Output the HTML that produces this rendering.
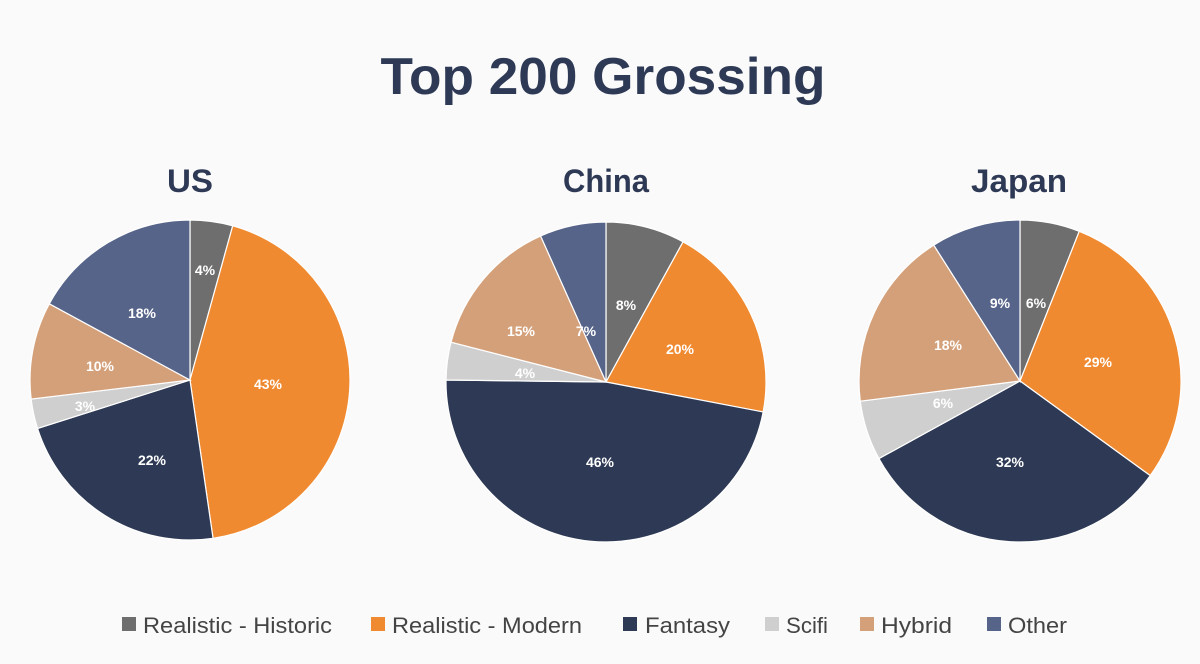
<!DOCTYPE html>
<html><head><meta charset="utf-8"><style>
html,body{margin:0;padding:0;background:#fafafa;}
svg{display:block}
</style></head><body>
<svg id="s" width="1200" height="664" viewBox="0 0 1200 664" xmlns="http://www.w3.org/2000/svg" font-family="Liberation Sans, sans-serif">
<rect width="1200" height="664" fill="#fafafa"/>
<text x="603" y="94" text-anchor="middle" font-size="52" font-weight="bold" fill="#2e3a55" textLength="445" lengthAdjust="spacingAndGlyphs">Top 200 Grossing</text>
<text x="190" y="192" text-anchor="middle" font-size="32" font-weight="bold" fill="#2e3a55" textLength="46" lengthAdjust="spacingAndGlyphs">US</text>
<text x="606" y="192" text-anchor="middle" font-size="32" font-weight="bold" fill="#2e3a55" textLength="86" lengthAdjust="spacingAndGlyphs">China</text>
<text x="1019" y="192" text-anchor="middle" font-size="32" font-weight="bold" fill="#2e3a55" textLength="96" lengthAdjust="spacingAndGlyphs">Japan</text>
<g id="pies"></g>
<g font-size="22" fill="#444">
<rect x="122" y="617" width="14" height="14" fill="#6e6e6e"/><text x="143" y="633" textLength="189" lengthAdjust="spacingAndGlyphs">Realistic - Historic</text>
<rect x="371" y="617" width="14" height="14" fill="#f08a30"/><text x="392" y="633" textLength="190" lengthAdjust="spacingAndGlyphs">Realistic - Modern</text>
<rect x="623" y="617" width="14" height="14" fill="#2e3a55"/><text x="645" y="633" textLength="85" lengthAdjust="spacingAndGlyphs">Fantasy</text>
<rect x="765" y="617" width="14" height="14" fill="#cfcfcf"/><text x="786" y="633" textLength="42" lengthAdjust="spacingAndGlyphs">Scifi</text>
<rect x="860" y="617" width="14" height="14" fill="#d4a07a"/><text x="881" y="633" textLength="71" lengthAdjust="spacingAndGlyphs">Hybrid</text>
<rect x="987" y="617" width="14" height="14" fill="#56648a"/><text x="1008" y="633" textLength="59" lengthAdjust="spacingAndGlyphs">Other</text>
</g>
</svg>
<script>
var cols=["#6e6e6e","#f08a30","#2e3a55","#cfcfcf","#d4a07a","#56648a"];
var pies=[
{cx:190,cy:380,r:160,v:[4,43,22,3,10,18],g:[4.3,43.4,22.4,3,9.8,17.1],L:[[205,270],[268,384],[152,460],[85,406],[100,366],[142,313]]},
{cx:606,cy:382,r:160,v:[8,20,46,4,15,7],g:[8,20,47.2,3.8,14.3,6.7],L:[[626,305],[680,349],[600,462],[525,373],[521,331],[586,331]]},
{cx:1020,cy:381,r:161,v:[6,29,32,6,18,9],g:[6,29,32,6,18,9],L:[[1036,303],[1098,362],[1010,462],[943,403],[948,345],[1000,303]]}];
var g=document.getElementById("pies"),h="";
pies.forEach(function(p){
 var a=0;
 p.g.forEach(function(v,i){
  var a0=a/100*2*Math.PI,a1=(a+v)/100*2*Math.PI;a+=v;
  var x0=p.cx+p.r*Math.sin(a0),y0=p.cy-p.r*Math.cos(a0),x1=p.cx+p.r*Math.sin(a1),y1=p.cy-p.r*Math.cos(a1);
  h+='<path d="M'+p.cx+','+p.cy+'L'+x0+','+y0+'A'+p.r+','+p.r+' 0 '+(v>50?1:0)+' 1 '+x1+','+y1+'Z" fill="'+cols[i]+'" stroke="#fff" stroke-width="1.2"/>';
 });
 p.v.forEach(function(v,i){
  h+='<text x="'+p.L[i][0]+'" y="'+(p.L[i][1]+5)+'" text-anchor="middle" font-size="14" font-weight="bold" fill="#fff">'+v+'%</text>';
 });
});
g.innerHTML=h;
</script>
</body></html>
